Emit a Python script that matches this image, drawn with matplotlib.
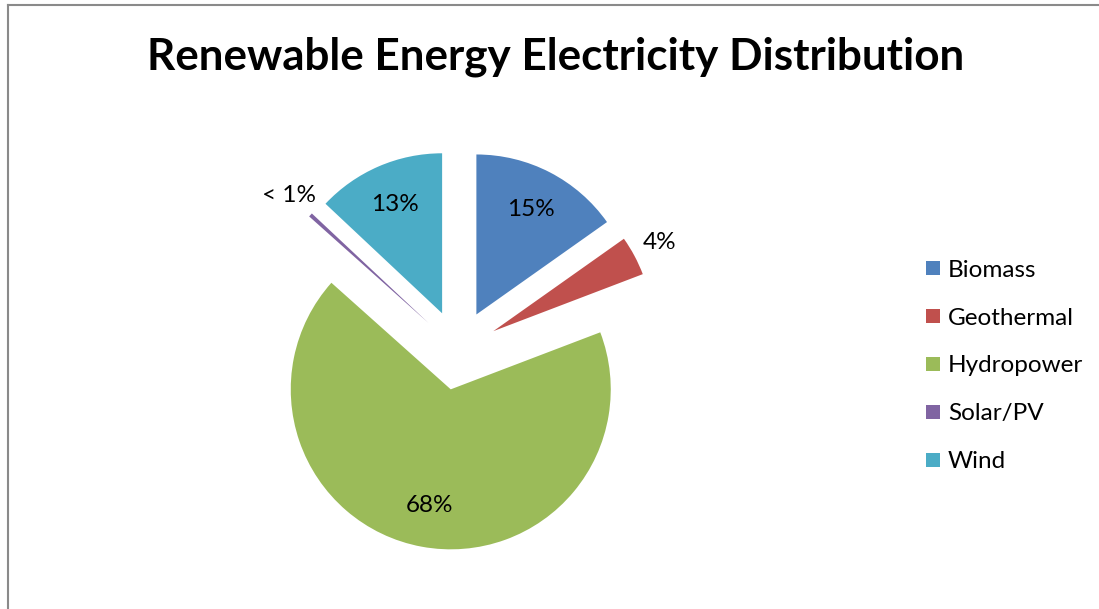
import matplotlib
matplotlib.use("Agg")
import matplotlib.pyplot as plt
import numpy as np
from matplotlib.lines import Line2D

W, H = 1099, 609

sources = ["Biomass", "Geothermal", "Hydropower", "Solar/PV", "Wind"]
shares = [15.2, 4.0, 67.4, 0.4, 13.0]
pct_labels = ["15%", "4%", "68%", "< 1%", "13%"]
outside = [False, True, False, True, False]
colors = ["#4F81BD", "#C0504D", "#9BBB59", "#8064A2", "#4BACC6"]

plt.rcParams["font.family"] = ["Lato", "DejaVu Sans"]

fig = plt.figure(figsize=(W / 100, H / 100), dpi=100)

# pie centre at (458, 350) px, radius 160 px
cx, cy, r = 458, H - 350, 160
ax = fig.add_axes([(cx - 2 * r) / W, (cy - 1.6 * r) / H, 4 * r / W, 3.2 * r / H])
wedges, _ = ax.pie(shares, colors=colors, startangle=90, counterclock=False,
                   explode=[0.25] * len(shares), radius=1,
                   wedgeprops=dict(linewidth=0))
ax.set_xlim(-2, 2)
ax.set_ylim(-1.6, 1.6)
ax.axis("off")

for w, lab, out in zip(wedges, pct_labels, outside):
    mid = np.deg2rad((w.theta1 + w.theta2) / 2)
    x0, y0 = w.center
    d = 1.18 if out else 0.74
    ax.text(x0 + d * np.cos(mid), y0 + d * np.sin(mid), lab,
            ha="center", va="center", fontsize=17.5, color="black")

fig.text(556 / W, 1 - 57 / H, "Renewable Energy Electricity Distribution",
         ha="center", va="center", fontsize=31.7, fontweight="bold")

fig.legend(wedges, sources, loc="center left",
           bbox_to_anchor=(914 / W, 1 - 366 / H), frameon=False,
           fontsize=17.5, handlelength=0.55, handleheight=0.55,
           handletextpad=0.35, labelspacing=1.11, borderpad=0)

# chart frame (only top and left edges visible in the crop)
gray = "#8A8A8A"
fig.add_artist(Line2D([8 / W, 1], [1 - 5 / H, 1 - 5 / H], color=gray, lw=1.5))
fig.add_artist(Line2D([8 / W, 8 / W], [0, 1 - 5 / H], color=gray, lw=1.5))

fig.savefig("out.png", dpi=100)
